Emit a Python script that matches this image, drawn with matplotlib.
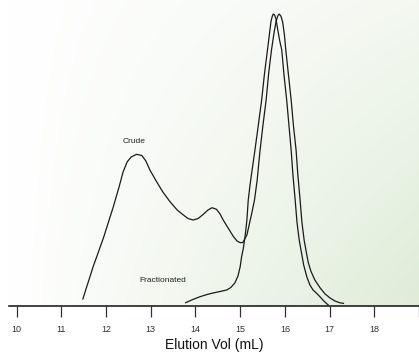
import numpy as np
import matplotlib
matplotlib.use('Agg')
import matplotlib.pyplot as plt
from matplotlib import font_manager

# pick a narrow sans face if one is around
names = set(f.name for f in font_manager.fontManager.ttflist)
narrow = 'Liberation Sans Narrow' if 'Liberation Sans Narrow' in names else 'Liberation Sans'
plt.rcParams['font.family'] = [narrow, 'DejaVu Sans']

# elution volume (mL) / relative absorbance
crude_x = [11.48, 11.71, 11.94, 12.16, 12.29, 12.38, 12.47, 12.56, 12.68, 12.80,
           12.89, 12.98, 13.13, 13.27, 13.43, 13.59, 13.73, 13.83, 13.95, 14.06,
           14.17, 14.28, 14.37, 14.47, 14.55, 14.62, 14.73, 14.85, 14.93, 15.00,
           15.06, 15.15, 15.20, 15.26, 15.32, 15.38, 15.44, 15.51, 15.58, 15.64,
           15.70, 15.76, 15.80, 15.84, 15.87, 15.91, 15.95, 15.99, 16.02, 16.08,
           16.14, 16.19, 16.25, 16.29, 16.34, 16.38, 16.43, 16.47, 16.52, 16.58,
           16.67, 16.79, 16.90, 17.01, 17.12, 17.23, 17.31]
crude_y = [2.40, 13.46, 23.29, 33.90, 40.75, 45.89, 49.32, 51.03, 51.95, 51.54,
           49.66, 46.58, 42.57, 39.04, 35.72, 32.88, 31.16, 29.97, 29.45, 29.97,
           31.34, 32.88, 33.66, 33.12, 31.51, 29.45, 26.71, 23.73, 22.26, 21.68,
           21.75, 24.32, 27.74, 31.85, 36.30, 43.15, 52.74, 61.99, 70.55, 80.14,
           87.67, 93.84, 97.26, 99.32, 100.0, 99.32, 97.26, 92.81, 87.67, 79.11,
           70.55, 61.99, 53.42, 44.86, 36.30, 28.77, 22.60, 19.18, 15.07, 11.99,
           8.90, 6.16, 4.11, 2.74, 1.71, 1.10, 0.92]

frac_x = [13.78, 13.94, 14.10, 14.26, 14.39, 14.55, 14.70, 14.79, 14.88, 14.95,
          15.00, 15.03, 15.07, 15.11, 15.15, 15.18, 15.22, 15.26, 15.33, 15.40,
          15.48, 15.54, 15.61, 15.66, 15.69, 15.72, 15.74, 15.77, 15.80, 15.83,
          15.88, 15.93, 15.98, 16.04, 16.09, 16.14, 16.18, 16.23, 16.27, 16.32,
          16.36, 16.42, 16.49, 16.56, 16.63, 16.71, 16.79, 16.87, 16.97]
frac_y = [1.13, 2.23, 3.18, 3.94, 4.45, 4.97, 5.48, 6.34, 7.88, 10.27,
          13.46, 16.78, 19.76, 23.97, 29.45, 36.30, 41.44, 45.89, 53.42, 61.30,
          70.55, 79.11, 87.67, 93.84, 97.60, 99.32, 100.0, 99.66, 98.29, 95.55,
          91.10, 87.67, 79.11, 70.55, 61.99, 53.42, 44.86, 36.30, 28.77, 22.60,
          19.18, 14.04, 10.03, 7.19, 5.48, 4.35, 3.08, 1.71, 0.34]

ticks = [10, 11, 12, 13, 14, 15, 16, 17, 18, 19]
tick_labels = ['10', '11', '12', '13', '14', '15', '16', '17', '18', '']

fig = plt.figure(figsize=(4.19, 3.55), dpi=100)
ax = fig.add_axes([9 / 419, 49 / 355, 410 / 419, 306 / 355])

# soft white -> pale green wash, greener toward the lower right
u, v = np.meshgrid(np.linspace(0, 1, 300), np.linspace(0, 1, 220))
t = np.clip(u * (0.37 + 0.63 * v), 0, 1)
white = np.array([1.0, 1.0, 1.0])
green = np.array([223, 236, 216]) / 255.
bg = white + t[..., None] * (green - white)
ax.imshow(bg, extent=[0, 1, 0, 1], transform=ax.transAxes, aspect='auto', zorder=0)

ax.plot(crude_x, crude_y, color='#1a1a1a', lw=0.9, zorder=2)
ax.plot(frac_x, frac_y, color='#1a1a1a', lw=0.9, zorder=2)

ax.text(12.62, 56.2, 'Crude', fontsize=6, ha='center', va='center', color='#222222')
ax.text(13.28, 8.7, 'Fractionated', fontsize=6, ha='center', va='center', color='#222222')

ax.set_xlim(9.828, 19.0)
ax.set_ylim(0, 104.8)
ax.set_xticks(ticks)
ax.set_xticklabels(tick_labels)
ax.set_yticks([])
for s in ['top', 'right', 'left']:
    ax.spines[s].set_visible(False)
ax.spines['bottom'].set_color('#222222')
ax.spines['bottom'].set_linewidth(1.2)
ax.tick_params(axis='x', length=8, width=0.9, color='#333333', pad=5.5,
               labelsize=6.5, labelcolor='#333333')
ax.set_xlabel('Elution Vol (mL)', fontsize=10, color='#111111', labelpad=3)

fig.savefig('out.png', dpi=100)
